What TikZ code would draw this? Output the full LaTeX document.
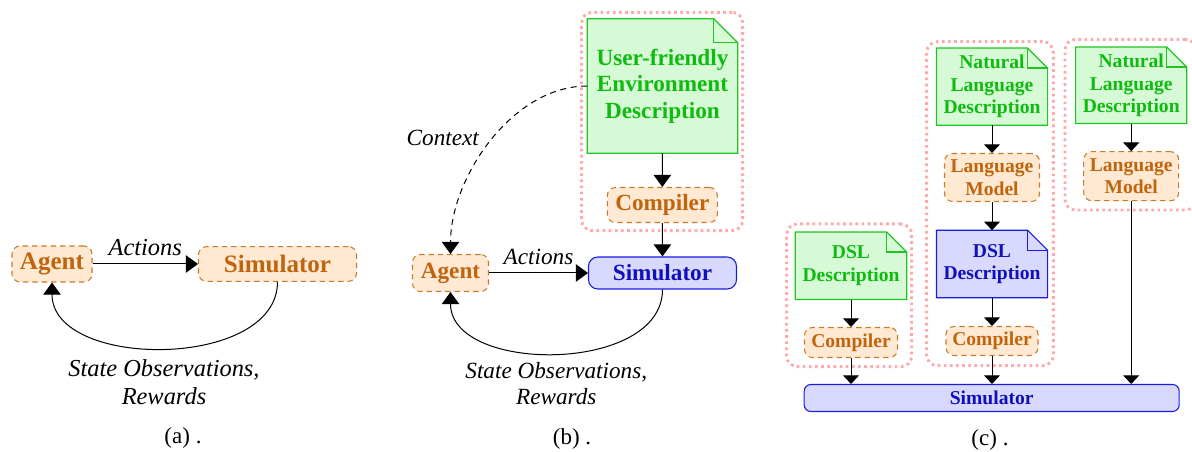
\documentclass[tikz,border=0pt]{standalone}
\usepackage{fontspec}
\setmainfont{Liberation Serif}
\usetikzlibrary{arrows.meta}
\pgfdeclarelayer{background}
\pgfsetlayers{background,main}
\definecolor{ofill}{HTML}{FFE9D2}
\definecolor{odraw}{HTML}{CC7A29}
\definecolor{otext}{HTML}{C0650D}
\definecolor{gfill}{HTML}{D6FAD6}
\definecolor{gdraw}{HTML}{22C422}
\definecolor{gtext}{HTML}{10BB10}
\definecolor{bfill}{HTML}{D9D9FF}
\definecolor{bdraw}{HTML}{1A1AE0}
\definecolor{btext}{HTML}{1010BB}
\definecolor{pinkd}{HTML}{FFAAAA}
\newcommand\drawnote[4]{%
 \begin{pgfonlayer}{background}
 \filldraw[draw=#3,fill=#4,line width=0.9pt] (#1.south west) -- (#1.north west) -- ([xshift=-#2]#1.north east) -- ([yshift=-#2]#1.north east) -- (#1.south east) -- cycle;
 \draw[#3,line width=0.9pt] ([xshift=-#2]#1.north east) -- ([xshift=-#2,yshift=-#2]#1.north east) -- ([yshift=-#2]#1.north east);
 \end{pgfonlayer}}
\tikzset{
 obox/.style={rectangle, rounded corners=6pt, draw=odraw, fill=ofill, dash pattern=on 4pt off 3pt, line width=0.8pt, text=otext, inner sep=0pt, align=center},
 bbox/.style={rectangle, rounded corners=7pt, draw=bdraw, fill=bfill, line width=0.8pt, text=btext, inner sep=0pt, align=center},
 notetext/.style={rectangle, inner sep=0pt, align=center},
 pinkbox/.style={rectangle, rounded corners=8pt, draw=pinkd, line width=2.2pt, dash pattern=on 2pt off 2.6pt},
 arr/.style={-{Triangle[length=9pt,width=13pt]}, line width=0.75pt},
 arrc/.style={-{Triangle[length=6.5pt,width=12pt]}, line width=0.75pt},
 fa/.style={font=\bfseries\fontsize{18.8}{21}\selectfont},
 fb/.style={font=\bfseries\fontsize{17.4}{20}\selectfont},
 fc/.style={font=\bfseries\fontsize{14.7}{16.9}\selectfont},
 ia/.style={font=\itshape\fontsize{18.3}{21.5}\selectfont},
 ib/.style={font=\itshape\fontsize{17.4}{19.5}\selectfont},
 captxt/.style={font=\fontsize{17.25}{20}\selectfont},
}
\begin{document}
\begin{tikzpicture}[x=0.75pt,y=-0.75pt]
\useasboundingbox (0,0) rectangle (1192,452);
% ---------- panel (a)
\node[obox, fa, minimum width=60pt, minimum height=27pt] (a-agent) at (52,264) {Agent};
\node[obox, fa, minimum width=118.5pt, minimum height=26pt] (a-sim) at (277.5,264) {Simulator};
\draw[arr] (a-agent) -- node[above=5pt, inner sep=1pt, ia] (a-act) {Actions} (a-sim);
\draw[arr] (a-sim.south) .. controls (277.5,370) and (52,370) .. (a-agent.south);
\node[ia, align=center] (a-lab) at (164,382) {State Observations,\\Rewards};
\node[captxt] (a-cap) at (183,438) {(a) .};
% ---------- panel (b)
\node[pinkbox, minimum width=120.75pt, minimum height=163.8pt] (b-grp) at (662.2,121.5) {};
\node[notetext, fb, text=gtext, minimum width=112.5pt, minimum height=100.5pt] (b-ued) at (662.5,86) {User-friendly\\Environment\\Description};
\drawnote{b-ued}{18pt}{gdraw}{gfill}
\node[obox, fb, minimum width=82.5pt, minimum height=26.25pt] (b-comp) at (662.3,205) {Compiler};
\node[bbox, fb, minimum width=111pt, minimum height=24pt] (b-sim) at (662.5,273) {Simulator};
\node[obox, fb, minimum width=57pt, minimum height=27.75pt] (b-agent) at (450.5,273) {Agent};
\draw[arr] (b-ued) -- (b-comp);
\draw[arr] (b-comp) -- (b-sim);
\draw[arr] (b-agent) -- node[above=4.5pt, inner sep=1pt, ib] (b-act) {Actions} (b-sim);
\draw[arr] (b-sim.south) .. controls (662.5,374) and (450.5,374) .. (b-agent.south);
\draw[arr, dash pattern=on 4.5pt off 3.5pt] (b-ued.west) .. controls (512,86) and (450.5,178) .. (b-agent.north);
\node[ib] (b-ctx) at (442.8,138.3) {Context};
\node[ib, align=center] (b-lab) at (556.3,383.7) {State Observations,\\Rewards};
\node[captxt] (b-cap) at (572,439) {(b) .};
% ---------- panel (c)
\node[pinkbox, minimum width=93.75pt, minimum height=107pt] (c-grp1) at (849.2,295.3) {};
\node[pinkbox, minimum width=95pt, minimum height=243pt] (c-grp2) at (990,203.7) {};
\node[pinkbox, minimum width=98.25pt, minimum height=128pt] (c-grp3) at (1130.5,124.7) {};
% left column
\node[notetext, fc, text=gtext, minimum width=83.25pt, minimum height=50.25pt] (c-dsl1) at (851,265.8) {DSL\\Description};
\drawnote{c-dsl1}{15pt}{gdraw}{gfill}
\node[obox, fc, minimum width=69.75pt, minimum height=22.5pt] (c-comp1) at (851,342.5) {Compiler};
% middle column
\node[notetext, fc, text=gtext, minimum width=83pt, minimum height=57.5pt] (c-nl1) at (992,86.7) {Natural\\Language\\Description};
\drawnote{c-nl1}{15pt}{gdraw}{gfill}
\node[obox, fc, minimum width=71.25pt, minimum height=36pt] (c-lm1) at (992,177.5) {Language\\Model};
\node[notetext, fc, text=btext, minimum width=83pt, minimum height=50.25pt] (c-dsl2) at (992,264) {DSL\\Description};
\drawnote{c-dsl2}{15pt}{bdraw}{bfill}
\node[obox, fc, minimum width=69pt, minimum height=21.75pt] (c-comp2) at (992,341) {Compiler};
% right column
\node[notetext, fc, text=gtext, minimum width=83pt, minimum height=57pt] (c-nl2) at (1131.2,85.3) {Natural\\Language\\Description};
\drawnote{c-nl2}{15pt}{gdraw}{gfill}
\node[obox, fc, minimum width=71.25pt, minimum height=36.75pt] (c-lm2) at (1131.2,176.2) {Language\\Model};
% simulator
\node[bbox, fc, rounded corners=5pt, minimum width=281.25pt, minimum height=20.25pt] (c-sim) at (991.7,398) {Simulator};
\draw[arrc] (c-dsl1) -- (c-comp1);
\draw[arrc] (c-comp1) -- (c-comp1.south |- c-sim.north);
\draw[arrc] (c-nl1) -- (c-lm1);
\draw[arrc] (c-lm1) -- (c-dsl2);
\draw[arrc] (c-dsl2) -- (c-comp2);
\draw[arrc] (c-comp2) -- (c-comp2.south |- c-sim.north);
\draw[arrc] (c-nl2) -- (c-lm2);
\draw[arrc] (c-lm2) -- (c-lm2.south |- c-sim.north);
\node[captxt] (c-cap) at (990,440) {(c) .};
\end{tikzpicture}
\end{document}
